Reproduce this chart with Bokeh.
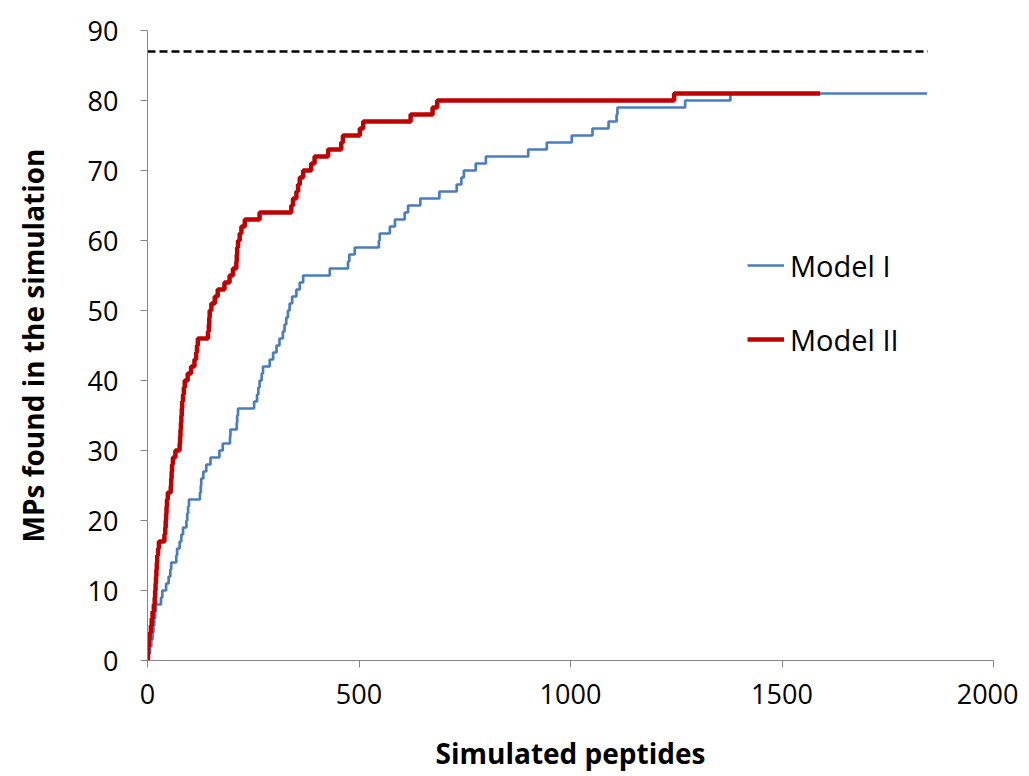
from bokeh.plotting import figure
from bokeh.models import Range1d, FixedTicker, Legend, LegendItem
from bokeh.embed import file_html
from bokeh.resources import INLINE

# ---- data ----
model1_x = [0, 3, 6, 9, 12, 14, 16, 18, 20, 32, 35, 44, 50, 54, 56, 68, 70, 76, 80, 84,
            92, 94, 96, 98, 124, 126, 127, 132, 139, 149, 170, 178, 195, 196, 211, 212, 214,
            252, 259, 262, 265, 270, 273, 289, 297, 305, 312, 320, 324, 328, 332, 336, 342,
            352, 360, 368, 431, 474, 477, 490, 547, 549, 573, 585, 608, 616, 645, 690, 731,
            742, 748, 776, 800, 900, 944, 1003, 1052, 1090, 1109, 1111, 1271, 1378, 1843]
model1_y = [0, 1, 2, 3, 4, 5, 6, 7, 8, 9, 10, 11, 12, 13, 14, 15, 16, 17, 18, 19,
            20, 21, 22, 23, 24, 25, 26, 27, 28, 29, 30, 31, 32, 33, 34, 35, 36,
            37, 38, 39, 40, 41, 42, 43, 44, 45, 46, 47, 48, 49, 50, 51, 52,
            53, 54, 55, 56, 57, 58, 59, 60, 61, 62, 63, 64, 65, 66, 67, 68,
            69, 70, 71, 72, 73, 74, 75, 76, 77, 78, 79, 80, 81, 81]

model2_x = [0, 1, 3, 5, 8, 10, 12, 15, 17, 18, 19, 20, 21, 22, 23, 25, 27, 40, 42, 43, 44,
            45, 46, 48, 55, 56, 57, 58, 60, 66, 76, 77, 78, 79, 80, 81, 82, 84, 86, 88, 95,
            103, 111, 115, 117, 119, 143, 145, 146, 147, 151, 159, 166, 182, 194, 202, 210,
            211, 212, 214, 218, 222, 230, 265, 340, 344, 352, 356, 360, 368, 387, 395, 427,
            458, 462, 502, 510, 622, 674, 685, 1245, 1590]
model2_y = [0, 2, 3, 4, 5, 6, 7, 8, 9, 10, 11, 12, 13, 14, 15, 16, 17, 18, 19, 20, 21,
            22, 23, 24, 25, 26, 27, 28, 29, 30, 31, 32, 33, 34, 35, 36, 37, 38, 39, 40, 41,
            42, 43, 44, 45, 46, 47, 48, 49, 50, 51, 52, 53, 54, 55, 56, 57,
            58, 59, 60, 61, 62, 63, 64, 65, 66, 67, 68, 69, 70, 71, 72, 73,
            74, 75, 76, 77, 78, 79, 80, 81, 81]

limit_x = [0, 1845]
limit_y = [87, 87]

x_ticks = [0, 500, 1000, 1500, 2000]
y_ticks = [0, 10, 20, 30, 40, 50, 60, 70, 80, 90]

FONT = "Open Sans"
AXIS_COLOR = "#868686"

p = figure(width=1018, height=774, output_backend="svg", toolbar_location=None,
           x_range=Range1d(0, 2000), y_range=Range1d(0, 90),
           min_border_left=147, min_border_right=25, min_border_top=30, min_border_bottom=114)

p.outline_line_color = None
p.xgrid.visible = False
p.ygrid.visible = False
p.background_fill_color = "white"
p.border_fill_color = "white"

r_lim = p.line(limit_x, limit_y, line_color="black", line_width=2.5, line_dash="8 4")
r1 = p.step(model1_x, model1_y, mode="after", line_color="#4A7EBB", line_width=2.7)
r2 = p.step(model2_x, model2_y, mode="after", line_color="#C00000", line_width=4.5)

for ax in (p.xaxis[0], p.yaxis[0]):
    ax.axis_line_color = AXIS_COLOR
    ax.major_tick_line_color = AXIS_COLOR
    ax.minor_tick_line_color = None
    ax.major_tick_in = 0
    ax.major_tick_out = 7
    ax.major_label_text_font = FONT
    ax.major_label_text_font_size = "27px"
    ax.major_label_text_color = "black"
    ax.axis_label_text_font = FONT
    ax.axis_label_text_font_size = "28px"
    ax.axis_label_text_font_style = "bold"
    ax.axis_label_text_color = "black"

p.xaxis.ticker = FixedTicker(ticks=x_ticks)
p.yaxis.ticker = FixedTicker(ticks=y_ticks)
p.xaxis.axis_label = "Simulated peptides"
p.yaxis.axis_label = "MPs found in the simulation"
p.xaxis.major_label_standoff = 16
p.yaxis.major_label_standoff = 22
p.xaxis.axis_label_standoff = 27
p.yaxis.axis_label_standoff = 33

legend = Legend(items=[LegendItem(label="Model I", renderers=[r1]),
                       LegendItem(label="Model II", renderers=[r2])],
                location=(600, 301), padding=0, margin=0, spacing=34,
                glyph_width=37, glyph_height=40, label_height=40, label_standoff=6,
                label_text_font=FONT, label_text_font_size="29px", label_text_color="black",
                border_line_color=None, background_fill_alpha=0)
p.add_layout(legend)

open("out.html", "w").write(file_html(p, INLINE))
